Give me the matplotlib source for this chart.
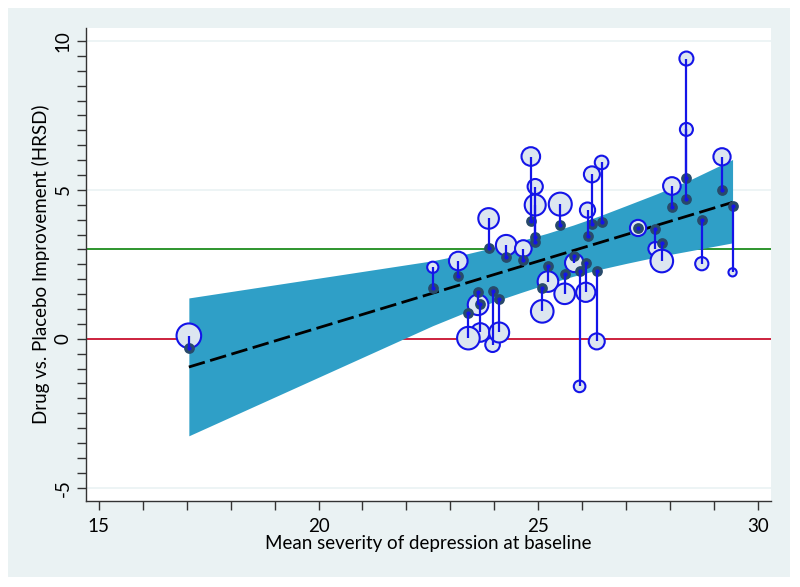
import numpy as np
import matplotlib.pyplot as plt
from matplotlib.patches import Rectangle

plt.rcParams['font.family'] = ['Lato', 'DejaVu Sans']
plt.rcParams['axes.unicode_minus'] = False

# mean baseline severity of each trial
baseline = [17.05, 22.60, 23.18, 23.87, 24.27, 23.63, 23.68, 23.41, 23.96, 24.11,
            24.66, 24.83, 24.93, 24.93, 25.50, 25.22, 25.09, 25.60, 25.82, 26.08,
            25.94, 26.33, 26.12, 26.22, 26.44, 27.27, 27.66, 27.81, 28.04, 28.37,
            28.37, 29.18, 28.72, 29.42]
# model-predicted drug vs placebo difference (dark dots)
predicted = [-0.30, 1.72, 2.12, 3.06, 2.75, 1.57, 1.18, 0.86, 1.60, 1.35,
             2.66, 3.94, 3.43, 3.26, 3.83, 2.43, 1.72, 2.19, 2.77, 2.55,
             2.26, 2.26, 3.44, 3.87, 3.91, 3.72, 3.68, 3.20, 4.44, 5.41,
             4.70, 4.99, 4.00, 4.45]
# observed drug vs placebo difference (open circles)
observed = [0.10, 2.40, 2.61, 4.04, 3.14, 1.14, 0.21, 0.02, -0.20, 0.21,
            3.03, 6.12, 5.11, 4.49, 4.52, 1.92, 0.92, 1.51, 2.55, 1.56,
            -1.60, -0.09, 4.32, 5.52, 5.92, 3.72, 3.02, 2.61, 5.13, 9.41,
            7.03, 6.11, 2.52, 2.23]
# relative study weight (circle radius)
weight = [13, 6.3, 10, 11, 11, 11, 10, 12, 8, 10.7,
          9, 10, 8.3, 11.2, 12.2, 11, 12, 11, 10, 10.3,
          6.5, 8.7, 8.3, 8.7, 7.5, 8.8, 7.5, 12, 9.5, 7.7,
          7.2, 9.3, 7.3, 4.8]

# fitted line and its confidence band
fit_x = [17.05, 29.42]
fit_y = [-0.95, 4.58]
band_x = [17.05, 22.60, 23.40, 24.00, 24.60, 25.20, 25.80, 26.40, 27.00, 27.70, 28.40, 29.42]
band_hi = [1.37, 2.62, 2.86, 3.07, 3.29, 3.54, 3.82, 4.13, 4.47, 4.87, 5.30, 6.02]
band_lo = [-3.26, 0.44, 0.92, 1.25, 1.55, 1.84, 2.10, 2.33, 2.53, 2.75, 2.94, 3.22]

fig = plt.figure(figsize=(8, 5.87), dpi=100)
fig.patches.append(Rectangle((0.01, 0.017), 0.978, 0.969, transform=fig.transFigure,
                             facecolor='#EAF2F3', edgecolor='none', zorder=-1))
ax = fig.add_axes([0.1075, 0.147, 0.856, 0.805])
ax.set_facecolor('white')

for g in [-5, 5, 10]:
    ax.axhline(g, color='#EAF2F3', lw=1.2, zorder=0.5)
ax.axhline(0, color='#C8102E', lw=1.3, zorder=1)
ax.axhline(3, color='#1E8C1E', lw=1.3, zorder=1)

ax.fill_between(band_x, band_lo, band_hi, color='#2F9FC7', lw=0, zorder=2)
ax.plot(fit_x, fit_y, color='black', lw=2.0, ls=(0, (6, 2)), zorder=3)

sizes = [(2 * w * 0.72 - 1) ** 2 for w in weight]
ax.scatter(baseline, observed, s=sizes, facecolor='#DCE6F0', edgecolor='#1414E8',
           linewidth=1.5, zorder=4)
ax.scatter(baseline, predicted, s=60, color='#284A6A', linewidth=0, zorder=5)
ax.vlines(baseline, predicted, observed, color='#1414E8', lw=1.6, zorder=6)
ax.scatter(baseline, predicted, s=9, color='#1414E8', linewidth=0, zorder=7)

ax.set_xlim(14.71, 30.29)
ax.set_ylim(-5.44, 10.43)
ax.set_xticks([15, 20, 25, 30])
ax.set_xticks(np.arange(15, 31, 1), minor=True)
ax.set_yticks([-5, 0, 5, 10])
ax.set_yticks(np.arange(-5, 10.5, 0.5), minor=True)
ax.tick_params(which='both', direction='out', length=6.5, width=1, color='#333333',
               labelsize=13.5, labelcolor='black')
ax.tick_params(axis='x', pad=6)
ax.tick_params(axis='y', pad=4)
plt.setp(ax.get_yticklabels(), rotation=90, va='center')

for s in ['top', 'right']:
    ax.spines[s].set_visible(False)
for s in ['left', 'bottom']:
    ax.spines[s].set_color('#333333')
    ax.spines[s].set_linewidth(1)

ax.set_xlabel('Mean severity of depression at baseline', fontsize=13.5, labelpad=0)
ax.set_ylabel('Drug vs. Placebo Improvement (HRSD)', fontsize=13.5, labelpad=3)

fig.savefig('out.png', dpi=100)
